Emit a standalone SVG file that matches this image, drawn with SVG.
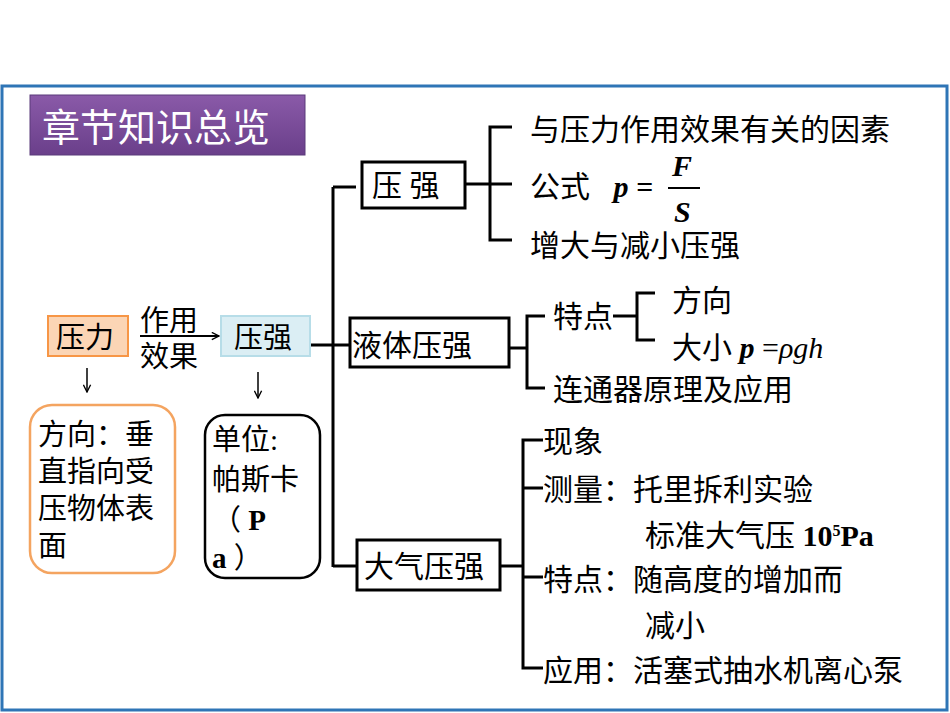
<svg xmlns="http://www.w3.org/2000/svg" width="950" height="713" viewBox="0 0 950 713">
<defs>
<linearGradient id="pg" x1="0" y1="0" x2="0" y2="1"><stop offset="0" stop-color="#8a5aa8"/><stop offset="1" stop-color="#6a3f8a"/></linearGradient>
<marker id="ar" viewBox="0 0 10 10" refX="9" refY="5" markerWidth="9" markerHeight="9" orient="auto" markerUnits="userSpaceOnUse"><path d="M1,1 L9,5 L1,9" fill="none" stroke="#000" stroke-width="1.5"/></marker>
</defs>
<style>
text{font-family:"Liberation Serif","Noto Sans CJK SC",serif;fill:#000;font-size:29px}
.big{font-size:30px}
.t{font-size:38px;fill:#fff}
.l{stroke:#000;stroke-width:3;fill:none}
.b{fill:#fff;stroke:#000;stroke-width:3}
.m{font-family:"Liberation Serif",serif;font-weight:bold}
</style>
<rect width="950" height="713" fill="#fff"/>
<rect x="2" y="86" width="945" height="624" fill="none" stroke="#2e75b6" stroke-width="3"/>
<g id="title"><rect x="30" y="95" width="275" height="60" fill="url(#pg)" stroke="#5b3a7a"/><text class="t" x="42" y="141">章节知识总览</text></g>
<g id="connectors">
<line class="l" x1="333" y1="187" x2="333" y2="567"/>
<line class="l" x1="333" y1="187" x2="356" y2="187"/>
<line class="l" x1="310" y1="345" x2="350" y2="345"/>
<line class="l" x1="333" y1="566" x2="357" y2="566"/>
<line class="l" x1="465" y1="184" x2="490" y2="184"/>
<path class="l" d="M512,127 H490 V240 H512 M490,184 H512"/>
<line class="l" x1="509" y1="348" x2="527" y2="348"/>
<path class="l" d="M545,316 H527 V388 H545"/>
<path class="l" d="M613,316 H637 M655,293 H637 V340 H655"/>
<line class="l" x1="500" y1="566" x2="523" y2="566"/>
<path class="l" d="M543,440 H523 V668 H543 M523,488 H543 M523,577 H543"/>
<line x1="140" y1="336" x2="219" y2="336" stroke="#000" stroke-width="2" marker-end="url(#ar)"/>
<line x1="87" y1="368" x2="87" y2="392" stroke="#000" stroke-width="1.5" marker-end="url(#ar)"/>
<line x1="258" y1="372" x2="258" y2="398" stroke="#000" stroke-width="1.5" marker-end="url(#ar)"/>
</g>
<g id="yali"><rect x="48" y="316" width="80" height="40" fill="#fbd5b5" stroke="#f79646" stroke-width="2"/><text x="56" y="348">压力</text></g>
<text x="140" y="331">作用</text><text x="140" y="367">效果</text>
<g id="yaqiang"><rect x="221" y="316" width="89" height="40" fill="#dbeef4" stroke="#b7dde8" stroke-width="2"/><text x="234" y="348">压强</text></g>
<g id="fangxiang"><rect x="30" y="405" width="145" height="168" rx="22" fill="#fff" stroke="#f4a460" stroke-width="2.5"/>
<text x="38" y="445">方向：垂</text><text x="38" y="482">直指向受</text><text x="38" y="519">压物体表</text><text x="38" y="556">面</text></g>
<g id="danwei"><rect x="205" y="415" width="115" height="163" rx="20" fill="#fff" stroke="#000" stroke-width="2.5"/>
<text x="212" y="450">单位:</text><text x="212" y="490">帕斯卡</text><text x="212" y="530">（ <tspan class="m">P</tspan></text><text x="212" y="568"><tspan class="m">a</tspan> ）</text></g>
<g id="yq"><rect class="b" x="362" y="162" width="103" height="46"/><text class="big" x="372" y="196">压  强</text></g>
<g id="ytyq"><rect class="b" x="350" y="318" width="159" height="49"/><text class="big" x="352" y="356">液体压强</text></g>
<g id="dqyq"><rect class="b" x="357" y="540" width="143" height="50"/><text class="big" x="364" y="577">大气压强</text></g>
<g id="yq-items">
<text class="big" x="530" y="140">与压力作用效果有关的因素</text>
<text class="big" x="530" y="197">公式 <tspan class="m" font-style="italic" dx="16">p =</tspan></text>
<text x="672" y="176" class="m big" font-style="italic">F</text>
<line x1="668" y1="188" x2="700" y2="188" stroke="#000" stroke-width="2"/>
<text x="674" y="222" class="m big" font-style="italic">S</text>
<text class="big" x="530" y="256">增大与减小压强</text>
</g>
<g id="yt-items">
<text class="big" x="553" y="327">特点</text>
<text class="big" x="672" y="311">方向</text>
<text class="big" x="672" y="358">大小 <tspan class="m" font-style="italic">p</tspan> =<tspan font-style="italic">ρgh</tspan></text>
<text class="big" x="553" y="400">连通器原理及应用</text>
</g>
<g id="dq-items">
<text class="big" x="543" y="452">现象</text>
<text class="big" x="543" y="500">测量：托里拆利实验</text>
<text class="big" x="645" y="546">标准大气压 <tspan class="m">10</tspan><tspan class="m" font-size="16" dy="-10">5</tspan><tspan class="m" dy="10">Pa</tspan></text>
<text class="big" x="543" y="590">特点：随高度的增加而</text>
<text class="big" x="645" y="636">减小</text>
<text class="big" x="543" y="681">应用：活塞式抽水机离心泵</text>
</g>
</svg>
